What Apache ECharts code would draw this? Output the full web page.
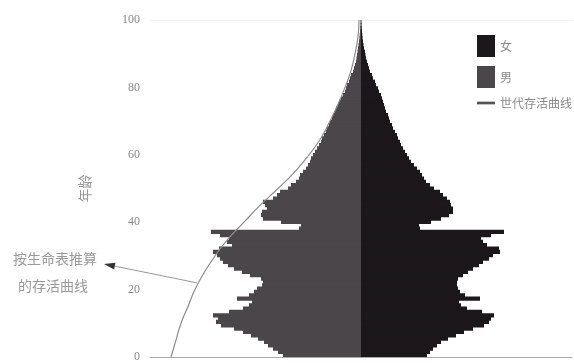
<!DOCTYPE html>
<html>
<head>
<meta charset="utf-8">
<script src="https://cdn.jsdelivr.net/npm/echarts@6/dist/echarts.min.js"></script>
<style>html,body{margin:0;padding:0;background:#fff}#c{width:574px;height:363px}</style>
</head>
<body>
<div id="c"></div>
<script>
// Ages 0..100 (categories)
var ages = [];
for (var i = 0; i <= 100; i++) ages.push(String(i));

// Male population by single year of age (unit: 100k persons)
var male = [78,83,88,93,97,103,110,118,127,140,
            145,143,148,132,118,112,109,124,112,107,
            104,99,98,100,111,119,127,133,138,141,
            144,148,142,129,134,132,141,150,62,60,
            80,98,100,99,94,96,98,88,84,81,
            73,70,65,62,61,58,55,53,51,50,
            48,46,44,42,40,39,37,35,34,32,
            31,29,28,26,25,23,22,20,18,16,
            15,14,12,11,10,8,7,6,5,4.5,
            4,3.5,3,2.5,2,1.6,1.3,1,0.8,0.6,0.5];

// Female population by single year of age (unit: 100k persons)
var female = [66,69,72,76,80,87,95,103,112,123,
              128,130,133,121,106,100,98,119,104,99,
              97,96,96,97,102,107,112,118,122,128,
              132,139,138,126,122,120,130,143,59,58,
              70,80,88,92,92,90,89,86,82,79,
              73,69,65,63,61,59,56,53,50,48,
              46,44,42,40,39,37,36,34,32,31,
              29,28,27,25,24,23,22,21,20,18,
              17,15,14,12,11,9,8,7,6,5,
              4.5,4,3,2.5,2,1.6,1.3,1,0.8,0.6,0.5];

// Survival curve (drawn on the male side): ages and widths
var curveAges = [0,5,10,15,20,25,30,35,40,45,50,55,60,65,70,75,80,85,90,95,100];
var curveVals = [190,185,180,173,166,157,146,133,117,101,83,66,52,40,31,23,16,10,6,3,2];

var yTicks = [0,20,40,60,80,100];

var chart = echarts.init(document.getElementById('c'), null, {renderer:'canvas'});

var maleNeg = male.map(function(v){return -v;});
var curveData = curveAges.map(function(a, k){return [-curveVals[k], a];});

var maleColor = '#4a464a', femaleColor = '#1c171b';

var option = {
  animation:false,
  backgroundColor:'#ffffff',
  grid:{left:150, right:2, top:20, bottom:5},
  legend:{
    orient:'vertical', left:472, top:30,
    itemWidth:18, itemHeight:22, itemGap:9,
    textStyle:{color:'#8a8a8a', fontSize:12, fontFamily:'Noto Sans CJK SC'},
    data:[
      {name:'女', icon:'rect'},
      {name:'男', icon:'rect'},
      {name:'世代存活曲线', icon:'path://M0,0 L20,0 L20,3 L0,3 Z', itemStyle:{color:'#555'}}
    ]
  },
  xAxis:[
    {type:'value', min:-211, max:211, position:'bottom',
     axisLine:{show:true, lineStyle:{color:'#aaa', width:1}},
     axisTick:{show:false}, axisLabel:{show:false}, splitLine:{show:false}},
    {type:'value', min:-211, max:211, position:'top',
     axisLine:{show:true, lineStyle:{color:'#efefef', width:1}},
     axisTick:{show:false}, axisLabel:{show:false}, splitLine:{show:false}}
  ],
  yAxis:[
    {type:'category', data:ages, show:false},
    {type:'value', min:0, max:100, interval:20, position:'left',
     name:'年龄', nameLocation:'middle', nameGap:58, nameRotate:90,
     nameTextStyle:{color:'#999', fontSize:14, fontFamily:'Noto Sans CJK SC'},
     axisLine:{show:false}, axisTick:{show:false}, splitLine:{show:false},
     axisLabel:{color:'#8a8a8a', fontSize:12, fontFamily:'Liberation Serif', margin:10,
       formatter:function(v){return yTicks.indexOf(v)>=0?String(v):'';}}}
  ],
  series:[
    {name:'男', type:'bar', data:maleNeg, xAxisIndex:0, yAxisIndex:0,
     barWidth:4.2, barGap:'-100%',
     itemStyle:{color:maleColor}},
    {name:'女', type:'bar', data:female, xAxisIndex:0, yAxisIndex:0,
     barWidth:4.2, barGap:'-100%',
     itemStyle:{color:femaleColor}},
    {name:'世代存活曲线', type:'line', data:curveData, xAxisIndex:0, yAxisIndex:1,
     smooth:true, showSymbol:false, symbol:'none',
     lineStyle:{color:'#8c8c8c', width:1.2}, z:5}
  ]
};
chart.setOption(option);

// annotation arrow from the curve to the label
var start = chart.convertToPixel({xAxisIndex:0, yAxisIndex:1}, [-164, 22]);
var tip = [104, 264];
var dx = start[0]-tip[0], dy = start[1]-tip[1];
var len = Math.sqrt(dx*dx+dy*dy), ux = dx/len, uy = dy/len;
var hb = [tip[0]+ux*11, tip[1]+uy*11];
chart.setOption({
  graphic:[
    {type:'line', shape:{x1:start[0], y1:start[1], x2:hb[0], y2:hb[1]}, style:{stroke:'#999', lineWidth:1}},
    {type:'polygon', shape:{points:[tip, [hb[0]-uy*3.5, hb[1]+ux*3.5], [hb[0]+uy*3.5, hb[1]-ux*3.5]]}, style:{fill:'#333'}},
    {type:'text', left:13, top:252, style:{text:'按生命表推算', fill:'#9a9a9a', font:'14px "Noto Sans CJK SC"'}},
    {type:'text', left:18, top:279, style:{text:'的存活曲线', fill:'#9a9a9a', font:'14px "Noto Sans CJK SC"'}}
  ]
});
</script>
</body>
</html>
